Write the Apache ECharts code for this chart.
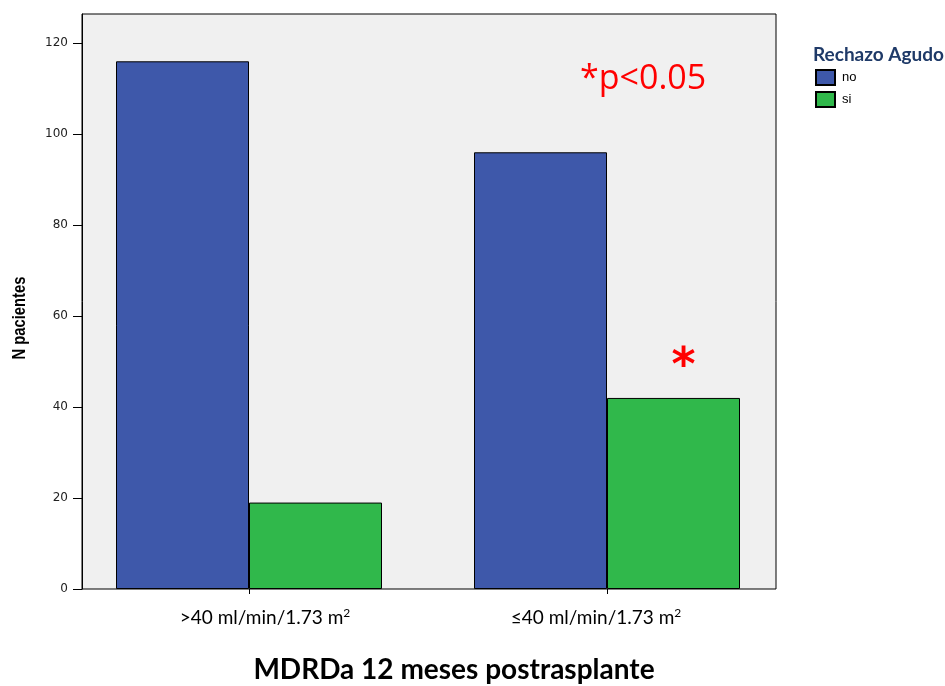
<!DOCTYPE html>
<html>
<head>
<meta charset="utf-8">
<style>html,body{margin:0;padding:0;background:#fff;}#c{width:945px;height:686px;}</style>
<script src="https://cdn.jsdelivr.net/npm/echarts@6/dist/echarts.min.js"></script>
</head>
<body>
<div id="c"></div>
<script>
const categories = ['>40 ml/min/1.73 m', '≤40 ml/min/1.73 m'];
const seriesNames = ['no', 'si'];
const valuesNo = [116, 96];
const valuesSi = [19, 42];
const yTicks = [0, 20, 40, 60, 80, 100, 120];
const colors = ['#3E58AA', '#30B84B'];

const labelPads = [[0, 0, 0, 32], [0, 22, 0, 0]];
const chart = echarts.init(document.getElementById('c'));
const yMax = 126.4;
chart.setOption({
  animation: false,
  backgroundColor: '#fff',
  title: [{
    text: 'MDRDa 12 meses postrasplante',
    left: 449, top: 651, textAlign: 'center',
    textStyle: { fontFamily: 'Lato, "Open Sans", sans-serif', fontWeight: 'bold', fontSize: 28, color: '#000' }
  }, {
    text: 'Rechazo Agudo',
    left: 808, top: 40,
    textStyle: { fontFamily: 'Lato, "Open Sans", sans-serif', fontWeight: 'bold', fontSize: 19, color: '#1F3A68' }
  }],
  legend: {
    data: seriesNames,
    orient: 'vertical',
    left: 810, top: 64,
    itemWidth: 19, itemHeight: 15, itemGap: 5,
    icon: 'rect',
    textStyle: { fontFamily: '"Liberation Sans", Arial, sans-serif', fontSize: 13, color: '#000', padding: [0, 0, 0, 2] }
  },
  grid: [
    { left: 82, top: 14, width: 694, height: 575, show: true, backgroundColor: '#F0F0F0', borderColor: '#000', borderWidth: 1, containLabel: false },
    { left: 70, top: 14, width: 716, height: 575, containLabel: false }
  ],
  xAxis: [
    { type: 'category', gridIndex: 0, data: categories, show: false },
    {
      type: 'category', gridIndex: 1,
      data: categories.map((c, i) => ({ value: c, textStyle: { padding: labelPads[i] } })),
      axisLine: { show: false },
      axisTick: { show: true, alignWithLabel: true, length: 5, lineStyle: { color: '#000' } },
      axisLabel: {
        margin: 18,
        formatter: v => '{t|' + v + '}{s|2}',
        rich: {
          t: { fontFamily: 'Lato, "Open Sans", sans-serif', fontSize: 19, color: '#000' },
          s: { fontFamily: 'Lato, "Open Sans", sans-serif', fontSize: 12, color: '#000', verticalAlign: 'top', padding: [0, 0, 10, 0] }
        }
      }
    }
  ],
  yAxis: [
    {
      type: 'value', gridIndex: 0, min: 0, max: yMax, interval: 20,
      axisLine: { show: true, lineStyle: { color: '#000', width: 1 } },
      axisTick: { show: true, length: 9, lineStyle: { color: '#000' } },
      splitLine: { show: false },
      axisLabel: {
        margin: 14, showMaxLabel: false,
        formatter: v => yTicks.includes(v) ? String(v) : '',
        fontFamily: '"DejaVu Sans", "Liberation Sans", sans-serif', fontSize: 12, color: '#222'
      }
    },
    { type: 'value', gridIndex: 1, min: 0, max: yMax, interval: 20, show: false }
  ],
  series: [
    {
      name: seriesNames[0], type: 'bar', xAxisIndex: 1, yAxisIndex: 1,
      data: valuesNo, barWidth: 133, barGap: '0%',
      itemStyle: { color: colors[0], borderColor: '#000', borderWidth: 1 }
    },
    {
      name: seriesNames[1], type: 'bar', xAxisIndex: 1, yAxisIndex: 1,
      data: valuesSi.map((v, i) => i === 1 ? {
        value: v,
        label: { show: true, position: 'top', formatter: '*', offset: [10, -2], color: '#FF0000', fontSize: 46, fontWeight: 'bold', fontFamily: '"DejaVu Sans", sans-serif' }
      } : v),
      barWidth: 133, barGap: '0%',
      itemStyle: { color: colors[1], borderColor: '#000', borderWidth: 1 }
    }
  ],
  graphic: [{
    type: 'text', left: 580, top: 62,
    style: { text: '*p<0.05', fill: '#FF0000', fontSize: 34, fontFamily: '"Open Sans", Lato, sans-serif' }
  }, {
    type: 'text', x: 20, y: 318, rotation: Math.PI / 2, scaleX: 0.82,
    style: { text: 'N pacientes', fill: '#000', fontSize: 18, fontWeight: 'bold', align: 'center', verticalAlign: 'middle', fontFamily: '"Liberation Sans", Arial, sans-serif' }
  }]
});
</script>
</body>
</html>
